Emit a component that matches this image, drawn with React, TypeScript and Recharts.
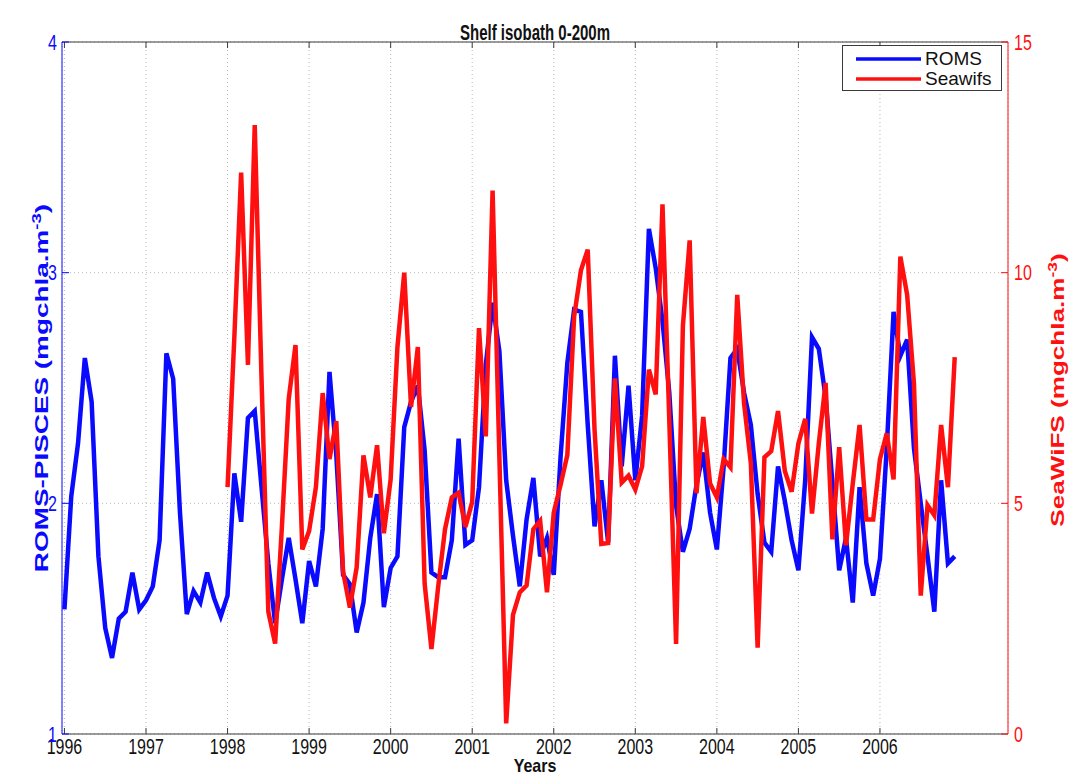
import React from 'react'
import { LineChart, Line, XAxis, YAxis, CartesianGrid, Legend, ReferenceLine, Label } from 'recharts'

// monthly means, Jan 1996 .. Dec 2006 (ROMS) and Jan 1998 .. Dec 2006 (SeaWiFS)
const romsStart = 1996
const seawifsStart = 1998
const yearTicks = [1996, 1997, 1998, 1999, 2000, 2001, 2002, 2003, 2004, 2005, 2006]
const romsTicks = [1, 2, 3, 4]
const seawifsTicks = [0, 5, 10, 15]
const seriesNames = ['ROMS', 'Seawifs']
const seriesColors = ['#0a0aff', '#ff1010']

const romsValues = [
  1.54, 2.03, 2.26, 2.63, 2.44, 1.77, 1.46, 1.33, 1.5, 1.53, 1.7, 1.54,
  1.58, 1.64, 1.84, 2.65, 2.54, 1.96, 1.52, 1.62, 1.57, 1.7, 1.59, 1.51,
  1.6, 2.13, 1.92, 2.37, 2.4, 2.07, 1.74, 1.48, 1.67, 1.85, 1.67, 1.48,
  1.75, 1.64, 1.89, 2.57, 2.21, 1.69, 1.65, 1.44, 1.57, 1.85, 2.04, 1.55,
  1.72, 1.77, 2.33, 2.44, 2.51, 2.23, 1.7, 1.68, 1.68, 1.84, 2.28, 1.82,
  1.84, 2.07, 2.6, 2.87, 2.66, 2.1, 1.86, 1.64, 1.93, 2.11, 1.77, 1.85,
  1.69, 2.2, 2.61, 2.84, 2.83, 2.34, 1.9, 2.1, 1.83, 2.64, 2.16, 2.51,
  2.1, 2.38, 3.19, 3.02, 2.79, 2.48, 1.99, 1.79, 1.89, 2.08, 2.22, 1.96,
  1.8, 2.16, 2.63, 2.67, 2.48, 2.34, 2.04, 1.83, 1.79, 2.16, 2.01, 1.84,
  1.71, 2.1, 2.72, 2.67, 2.46, 2.09, 1.71, 1.85, 1.57, 2.07, 1.74, 1.6,
  1.76, 2.24, 2.83, 2.64, 2.71, 2.24, 2.0, 1.77, 1.53, 2.1, 1.74, 1.77,
]

const seawifsValues = [
  5.35, 8.6, 12.17, 8.0, 13.2, 7.7, 2.65, 1.96, 4.5, 7.26, 8.43, 4.0,
  4.4, 5.35, 7.39, 5.96, 6.78, 3.52, 2.74, 3.61, 6.04, 5.13, 6.26, 4.35,
  5.52, 8.39, 10.0, 7.09, 8.39, 3.26, 1.84, 3.2, 4.44, 5.13, 5.23, 4.49,
  5.03, 8.8, 6.45, 11.78, 6.0, 0.23, 2.58, 3.07, 3.22, 4.44, 4.62, 3.07,
  4.8, 5.4, 6.05, 9.05, 10.05, 10.5, 6.6, 4.12, 4.14, 7.71, 5.45, 5.6,
  5.3, 5.8, 7.9, 7.36, 11.48, 6.8, 1.95, 8.84, 10.7, 5.22, 6.87, 5.43,
  5.13, 5.96, 5.78, 9.52, 7.17, 5.87, 1.87, 6.0, 6.13, 7.0, 5.7, 5.25,
  6.3, 6.83, 4.78, 6.3, 7.61, 4.22, 6.22, 4.09, 5.43, 6.7, 4.65, 4.65,
  5.96, 6.52, 5.52, 10.35, 9.52, 7.6, 3.0, 4.96, 4.74, 6.7, 5.35, 8.17,
]

const data = romsValues.map((v, i) => {
  const j = i - (seawifsStart - romsStart) * 12
  return { t: romsStart + i / 12, roms: v, seawifs: j >= 0 ? seawifsValues[j] : null }
})

const FONT = '"Liberation Sans", Arial, Helvetica, sans-serif'
const S = 1.35 // the original figure is stretched vertically
const W = 1072
const H = 774
const PLOT_TOP = 42
const PLOT_BOTTOM = 734
const AXIS_GREY = '#3a3a3a'

function XTick({ x, y, payload }: any) {
  return (
    <g transform={`translate(${x},${y})`}>
      <line x1={0} y1={0} x2={0} y2={-6} stroke={AXIS_GREY} />
      <line x1={0} y1={PLOT_TOP - PLOT_BOTTOM} x2={0} y2={PLOT_TOP - PLOT_BOTTOM + 6} stroke={AXIS_GREY} />
      <text transform={`scale(1,${S})`} y={15} textAnchor="middle" fontSize={16} fill="#111" fontFamily={FONT}>
        {payload.value}
      </text>
    </g>
  )
}

function LeftTick({ x, y, payload }: any) {
  return (
    <g transform={`translate(${x},${y})`}>
      <line x1={0} y1={0} x2={7} y2={0} stroke={seriesColors[0]} />
      <text transform={`scale(1,${S})`} x={-5} y={5.7} textAnchor="end" fontSize={16} fill={seriesColors[0]} fontFamily={FONT}>
        {payload.value}
      </text>
    </g>
  )
}

function RightTick({ x, y, payload }: any) {
  return (
    <g transform={`translate(${x},${y})`}>
      <line x1={0} y1={0} x2={-7} y2={0} stroke={seriesColors[1]} />
      <text transform={`scale(1,${S})`} x={6} y={5.7} textAnchor="start" fontSize={16} fill={seriesColors[1]} fontFamily={FONT}>
        {payload.value}
      </text>
    </g>
  )
}

function AxisTitle({ cx, cy, text, color, stretch }: { cx: number; cy: number; text: string; color: string; stretch: number }) {
  return (
    <text
      transform={`translate(${cx},${cy}) scale(1,${stretch}) rotate(-90)`}
      y={6.5}
      textAnchor="middle"
      fontSize={18}
      fontWeight="bold"
      fill={color}
      fontFamily={FONT}
    >
      {text} (mgchla.m
      <tspan dy={-7} fontSize={12}>-3</tspan>
      <tspan dy={7}>)</tspan>
    </text>
  )
}

function LegendBox({ payload }: any) {
  return (
    <div
      style={{
        width: 160,
        height: 46,
        boxSizing: 'border-box',
        border: `1px solid ${AXIS_GREY}`,
        background: '#fff',
        padding: '3px 0 0 0',
        fontFamily: FONT,
      }}
    >
      {(payload || []).map((p: any) => (
        <div key={p.value} style={{ display: 'flex', alignItems: 'center', height: 20 }}>
          <svg width={82} height={20}>
            <line x1={13} y1={10} x2={78} y2={10} stroke={p.color} strokeWidth={3.5} />
          </svg>
          <span style={{ fontSize: 19, color: '#111', lineHeight: '20px' }}>{p.value}</span>
        </div>
      ))}
    </div>
  )
}

export default function App() {
  return (
    <div style={{ position: 'absolute', left: 0, top: 0, width: W, height: H, background: '#fff' }}>
      <div
        style={{
          position: 'absolute',
          left: 62,
          width: 946,
          top: 23,
          lineHeight: '18px',
          textAlign: 'center',
          fontFamily: FONT,
          fontWeight: 'bold',
          fontSize: 15,
          color: '#111',
          transform: 'scaleY(1.5)',
        }}
      >
        Shelf isobath 0-200m
      </div>
      <div
        style={{
          position: 'absolute',
          left: 62,
          width: 946,
          top: 758,
          lineHeight: '16px',
          height: 16,
          textAlign: 'center',
          fontFamily: FONT,
          fontWeight: 'bold',
          fontSize: 16,
          color: '#111',
          transform: 'scaleY(1.2)',
        }}
      >
        Years
      </div>
      <LineChart width={W} height={H} data={data} margin={{ top: PLOT_TOP, right: 0, bottom: 0, left: 0 }}>
        <CartesianGrid xAxisId="x" yAxisId="left" stroke="#b8b8b8" strokeDasharray="1 3" />
        <XAxis
          xAxisId="x"
          dataKey="t"
          type="number"
          domain={[1995.97, 2007.57]}
          ticks={yearTicks}
          allowDataOverflow
          height={H - PLOT_BOTTOM}
          stroke={AXIS_GREY}
          tickLine={false}
          tickSize={0}
          tickMargin={0}
          tick={(p: any) => <XTick {...p} />}
        />
        <YAxis
          yAxisId="left"
          orientation="left"
          width={62}
          domain={[1, 4]}
          ticks={romsTicks}
          allowDataOverflow
          stroke={seriesColors[0]}
          tickLine={false}
          tickSize={0}
          tickMargin={0}
          tick={(p: any) => <LeftTick {...p} />}
        >
          <Label content={() => <AxisTitle cx={41} cy={388} text="ROMS-PISCES" color={seriesColors[0]} stretch={1.55} />} />
        </YAxis>
        <YAxis
          yAxisId="right"
          orientation="right"
          width={64}
          domain={[0, 15]}
          ticks={seawifsTicks}
          allowDataOverflow
          stroke={seriesColors[1]}
          tickLine={false}
          tickSize={0}
          tickMargin={0}
          tick={(p: any) => <RightTick {...p} />}
        >
          <Label content={() => <AxisTitle cx={1057} cy={390} text="SeaWiFS" color={seriesColors[1]} stretch={1.45} />} />
        </YAxis>
        <ReferenceLine xAxisId="x" yAxisId="left" y={4} stroke={AXIS_GREY} />
        <Line
          xAxisId="x"
          yAxisId="left"
          type="linear"
          dataKey="roms"
          name={seriesNames[0]}
          stroke={seriesColors[0]}
          strokeWidth={4.5}
          dot={false}
          activeDot={false}
          isAnimationActive={false}
        />
        <Line
          xAxisId="x"
          yAxisId="right"
          type="linear"
          dataKey="seawifs"
          name={seriesNames[1]}
          stroke={seriesColors[1]}
          strokeWidth={4.5}
          dot={false}
          activeDot={false}
          isAnimationActive={false}
        />
        <Legend
          layout="horizontal"
          verticalAlign="middle"
          align="center"
          wrapperStyle={{ left: 842, top: 45, width: 160, height: 46 }}
          content={(p: any) => <LegendBox {...p} />}
        />
      </LineChart>
    </div>
  )
}
